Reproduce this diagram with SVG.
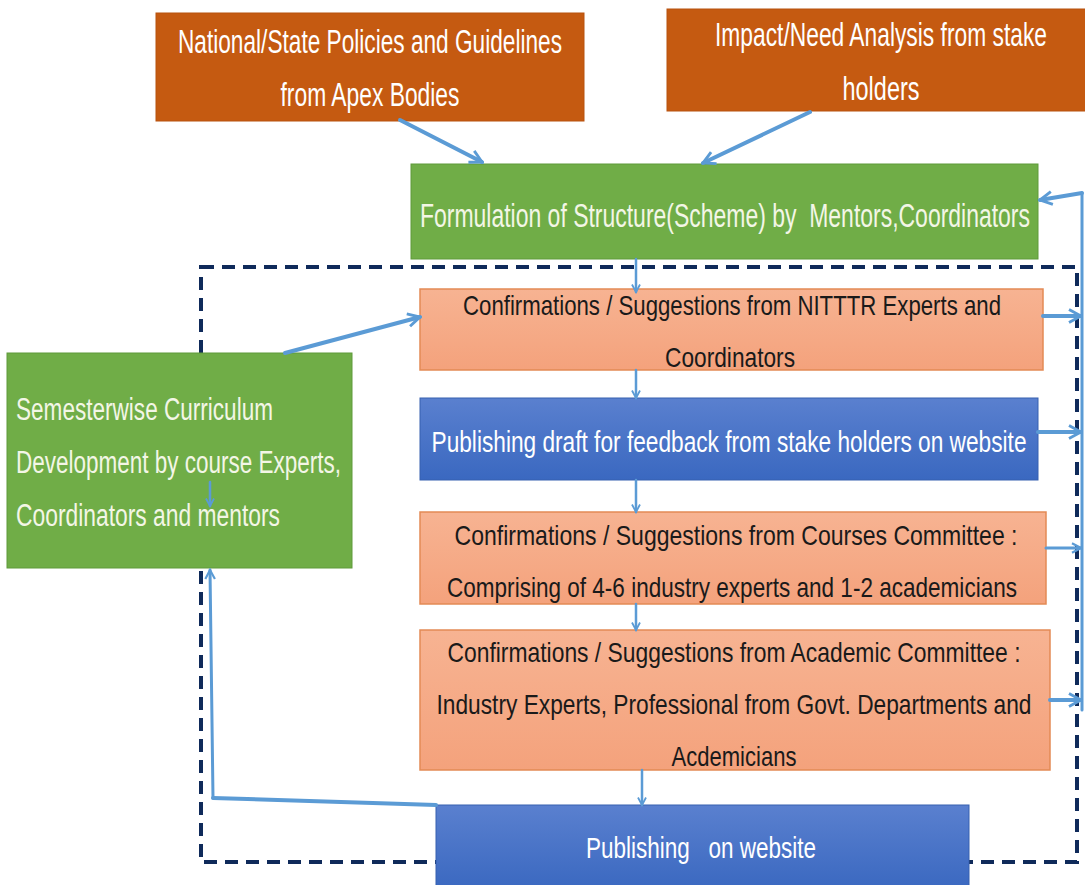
<svg xmlns="http://www.w3.org/2000/svg" width="1085" height="885" viewBox="0 0 1085 885">
<defs>
<linearGradient id="gSal" x1="0" y1="0" x2="0" y2="1"><stop offset="0" stop-color="#f7b392"/><stop offset="1" stop-color="#f4a27c"/></linearGradient>
<linearGradient id="gBlue" x1="0" y1="0" x2="0" y2="1"><stop offset="0" stop-color="#5a80cf"/><stop offset="1" stop-color="#3a68c0"/></linearGradient>
<marker id="arr" viewBox="0 0 10 10" refX="8.5" refY="5" markerWidth="4" markerHeight="4" orient="auto" markerUnits="strokeWidth">
<path d="M1,1 L8.5,5 L1,9" fill="none" stroke="#5b9bd5" stroke-width="1.8"/>
</marker>
<style>
.t{font-family:"Liberation Sans Narrow","Liberation Sans",Arial,sans-serif;text-anchor:middle}
.tl{font-family:"Liberation Sans Narrow","Liberation Sans",Arial,sans-serif}
.w{fill:#ffffff}
.g{fill:#f3f6e6}
.k{fill:#1a1a1a}
.org{fill:#c55a11;stroke:#b8520f;stroke-width:1}
.grn{fill:#70ad47;stroke:#5f9a3a;stroke-width:1}
.sal{fill:url(#gSal);stroke:#e38a55;stroke-width:1.5}
.blu{fill:url(#gBlue);stroke:#3660b0;stroke-width:1}
.c{fill:none;stroke:#5b9bd5;stroke-linecap:round;stroke-linejoin:round}
.c4{stroke-width:4}
.c3{stroke-width:3}
.c2{stroke-width:2.5}
</style>
</defs>
<rect width="1085" height="885" fill="#ffffff"/>
<rect id="boundary" x="201" y="267" width="876" height="595" fill="none" stroke="#0f2a5a" stroke-width="4" stroke-dasharray="13 8"/>

<g id="national">
<rect class="org" x="156" y="13" width="428" height="108"/>
<text class="t w" x="370" y="53" font-size="34" textLength="384" lengthAdjust="spacingAndGlyphs">National/State Policies and Guidelines</text>
<text class="t w" x="370" y="106" font-size="34" textLength="179" lengthAdjust="spacingAndGlyphs">from Apex Bodies</text>
</g>
<g id="impact">
<rect class="org" x="667" y="9" width="430" height="102"/>
<text class="t w" x="881" y="46" font-size="33" textLength="332" lengthAdjust="spacingAndGlyphs">Impact/Need Analysis from stake</text>
<text class="t w" x="881" y="100" font-size="33" textLength="77" lengthAdjust="spacingAndGlyphs">holders</text>
</g>
<g id="formulation">
<rect class="grn" x="411" y="164" width="627" height="95"/>
<text class="t g" x="725" y="227" font-size="33" textLength="610" lengthAdjust="spacingAndGlyphs" xml:space="preserve">Formulation of Structure(Scheme) by  Mentors,Coordinators</text>
</g>
<g id="semesterwise">
<rect class="grn" x="7" y="353" width="345" height="215"/>
<text class="tl g" x="16" y="420" font-size="31" textLength="257" lengthAdjust="spacingAndGlyphs">Semesterwise Curriculum</text>
<text class="tl g" x="16" y="473" font-size="31" textLength="325" lengthAdjust="spacingAndGlyphs">Development by course Experts,</text>
<text class="tl g" x="16" y="526" font-size="31" textLength="264" lengthAdjust="spacingAndGlyphs">Coordinators and mentors</text>
</g>
<g id="nitttr">
<rect class="sal" x="420" y="289" width="623" height="81"/>
<text class="t k" x="732" y="315" font-size="28" textLength="538" lengthAdjust="spacingAndGlyphs">Confirmations / Suggestions from NITTTR Experts and</text>
<text class="t k" x="730" y="367" font-size="28" textLength="130" lengthAdjust="spacingAndGlyphs">Coordinators</text>
</g>
<g id="draft">
<rect class="blu" x="420" y="398" width="618" height="82"/>
<text class="t w" x="729" y="452" font-size="29" textLength="595" lengthAdjust="spacingAndGlyphs">Publishing draft for feedback from stake holders on website</text>
</g>
<g id="courses">
<rect class="sal" x="420" y="512" width="626" height="92"/>
<text class="t k" x="736" y="545" font-size="28" textLength="563" lengthAdjust="spacingAndGlyphs">Confirmations / Suggestions from Courses Committee :</text>
<text class="t k" x="732" y="597" font-size="28" textLength="570" lengthAdjust="spacingAndGlyphs">Comprising of 4-6 industry experts and 1-2 academicians</text>
</g>
<g id="academic">
<rect class="sal" x="420" y="630" width="630" height="140"/>
<text class="t k" x="734" y="662" font-size="28" textLength="573" lengthAdjust="spacingAndGlyphs">Confirmations / Suggestions from Academic Committee :</text>
<text class="t k" x="734" y="714" font-size="28" textLength="595" lengthAdjust="spacingAndGlyphs">Industry Experts, Professional from Govt. Departments and</text>
<text class="t k" x="734" y="766" font-size="28" textLength="125" lengthAdjust="spacingAndGlyphs">Acdemicians</text>
</g>
<g id="publishing">
<rect class="blu" x="436" y="805" width="533" height="85"/>
<text class="t w" x="701" y="858" font-size="29" textLength="230" lengthAdjust="spacingAndGlyphs" xml:space="preserve">Publishing   on website</text>
</g>

<g id="connectors">
<path class="c c4" d="M400,120 L482,162" marker-end="url(#arr)"/>
<path class="c c4" d="M810,112 L703,163" marker-end="url(#arr)"/>
<path class="c c4" d="M285,353 L420,317" marker-end="url(#arr)"/>
<path class="c c3" d="M1082,710 L1082,193"/>
<path class="c c4" d="M1082,193 L1040,200" marker-end="url(#arr)"/>
<path class="c c4" d="M1043,316 L1081,316" marker-end="url(#arr)"/>
<path class="c c4" d="M1038,432 L1081,432" marker-end="url(#arr)"/>
<path class="c c3" d="M1046,548 L1081,548" marker-end="url(#arr)"/>
<path class="c c4" d="M1050,700 L1081,700" marker-end="url(#arr)"/>
<path class="c c2" d="M636,259 L636,292" marker-end="url(#arr)"/>
<path class="c c2" d="M636,370 L636,398" marker-end="url(#arr)"/>
<path class="c c2" d="M636,480 L636,512" marker-end="url(#arr)"/>
<path class="c c2" d="M636,604 L636,630" marker-end="url(#arr)"/>
<path class="c c2" d="M642,770 L642,805" marker-end="url(#arr)"/>
<path class="c c2" d="M210,482 L210,506" marker-end="url(#arr)"/>
<path class="c c4" d="M436,805 L213,798"/>
<path class="c c3" d="M213,798 L210,570" marker-end="url(#arr)"/>
</g>
</svg>
